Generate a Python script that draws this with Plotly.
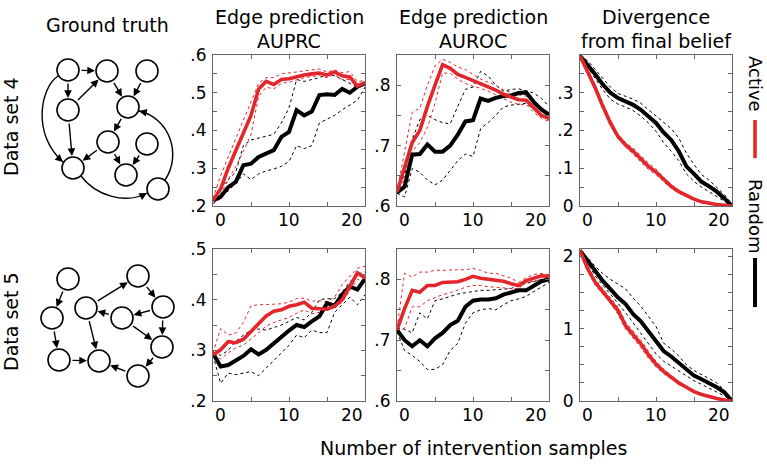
import plotly.graph_objects as go

W, H = 767, 464
FONT = "DejaVu Sans"
RED = "#e3262b"
BLACK = "#000000"

steps = list(range(21))

# ---------------- Data set 4 ----------------
ds4_auprc_active = [0.215, 0.245, 0.30, 0.345, 0.39, 0.44, 0.51, 0.53, 0.522, 0.535, 0.537, 0.543, 0.547, 0.55, 0.552, 0.547, 0.555, 0.545, 0.542, 0.518, 0.527]
ds4_auprc_active_hi = [0.22, 0.28, 0.33, 0.38, 0.43, 0.48, 0.525, 0.54, 0.54, 0.55, 0.552, 0.555, 0.558, 0.56, 0.563, 0.555, 0.56, 0.553, 0.556, 0.53, 0.532]
ds4_auprc_active_lo = [0.205, 0.23, 0.27, 0.305, 0.345, 0.39, 0.49, 0.515, 0.51, 0.525, 0.528, 0.535, 0.54, 0.543, 0.545, 0.54, 0.548, 0.535, 0.535, 0.512, 0.522]
ds4_auprc_random = [0.215, 0.224, 0.25, 0.264, 0.308, 0.312, 0.33, 0.339, 0.348, 0.383, 0.396, 0.454, 0.44, 0.45, 0.494, 0.496, 0.494, 0.51, 0.50, 0.516, 0.525]
ds4_auprc_random_hi = [0.22, 0.245, 0.27, 0.29, 0.36, 0.375, 0.38, 0.383, 0.39, 0.42, 0.46, 0.535, 0.53, 0.535, 0.54, 0.548, 0.545, 0.535, 0.525, 0.515, 0.528]
ds4_auprc_random_lo = [0.206, 0.22, 0.24, 0.26, 0.285, 0.27, 0.285, 0.293, 0.298, 0.305, 0.318, 0.36, 0.352, 0.36, 0.42, 0.43, 0.44, 0.455, 0.468, 0.48, 0.515]

ds4_auroc_active = [0.623, 0.665, 0.705, 0.725, 0.765, 0.80, 0.834, 0.828, 0.818, 0.813, 0.808, 0.802, 0.797, 0.792, 0.785, 0.78, 0.776, 0.775, 0.762, 0.75, 0.745]
ds4_auroc_active_hi = [0.625, 0.69, 0.755, 0.762, 0.80, 0.832, 0.843, 0.838, 0.83, 0.826, 0.818, 0.81, 0.805, 0.80, 0.792, 0.788, 0.784, 0.782, 0.77, 0.758, 0.752]
ds4_auroc_active_lo = [0.62, 0.645, 0.69, 0.705, 0.73, 0.77, 0.82, 0.82, 0.81, 0.803, 0.798, 0.795, 0.79, 0.784, 0.778, 0.772, 0.768, 0.768, 0.755, 0.745, 0.74]
ds4_auroc_random = [0.622, 0.632, 0.685, 0.686, 0.702, 0.69, 0.69, 0.70, 0.718, 0.74, 0.742, 0.778, 0.774, 0.779, 0.782, 0.783, 0.787, 0.788, 0.772, 0.76, 0.751]
ds4_auroc_random_hi = [0.628, 0.65, 0.71, 0.743, 0.75, 0.743, 0.738, 0.736, 0.765, 0.793, 0.797, 0.823, 0.815, 0.80, 0.79, 0.793, 0.794, 0.79, 0.787, 0.778, 0.765]
ds4_auroc_random_lo = [0.621, 0.615, 0.662, 0.656, 0.643, 0.635, 0.643, 0.66, 0.675, 0.686, 0.682, 0.728, 0.738, 0.75, 0.764, 0.767, 0.768, 0.77, 0.76, 0.75, 0.742]

ds4_div_active = [0.398, 0.357, 0.313, 0.264, 0.22, 0.184, 0.162, 0.145, 0.124, 0.105, 0.09, 0.07, 0.052, 0.038, 0.027, 0.018, 0.011, 0.007, 0.004, 0.002, 0.0]
ds4_div_active_hi = [0.398, 0.362, 0.32, 0.272, 0.228, 0.19, 0.168, 0.153, 0.133, 0.114, 0.098, 0.076, 0.057, 0.042, 0.03, 0.02, 0.013, 0.008, 0.005, 0.002, 0.0]
ds4_div_active_lo = [0.398, 0.352, 0.306, 0.256, 0.212, 0.178, 0.156, 0.138, 0.116, 0.097, 0.083, 0.064, 0.047, 0.034, 0.024, 0.016, 0.009, 0.006, 0.003, 0.001, 0.0]
ds4_div_random = [0.398, 0.375, 0.349, 0.322, 0.30, 0.286, 0.277, 0.268, 0.255, 0.238, 0.22, 0.195, 0.175, 0.145, 0.105, 0.085, 0.064, 0.052, 0.038, 0.02, 0.0]
ds4_div_random_hi = [0.398, 0.385, 0.362, 0.338, 0.315, 0.298, 0.29, 0.283, 0.272, 0.255, 0.24, 0.223, 0.205, 0.18, 0.14, 0.11, 0.083, 0.068, 0.05, 0.03, 0.005]
ds4_div_random_lo = [0.398, 0.368, 0.338, 0.308, 0.283, 0.27, 0.262, 0.253, 0.238, 0.22, 0.198, 0.168, 0.145, 0.12, 0.085, 0.065, 0.05, 0.038, 0.025, 0.012, 0.0]

# ---------------- Data set 5 ----------------
ds5_auprc_active = [0.291, 0.301, 0.317, 0.315, 0.322, 0.337, 0.354, 0.368, 0.377, 0.38, 0.387, 0.39, 0.395, 0.383, 0.382, 0.381, 0.387, 0.40, 0.426, 0.453, 0.443]
ds5_auprc_active_hi = [0.295, 0.343, 0.33, 0.334, 0.355, 0.388, 0.39, 0.39, 0.391, 0.392, 0.395, 0.402, 0.403, 0.397, 0.398, 0.396, 0.405, 0.43, 0.445, 0.462, 0.466]
ds5_auprc_active_lo = [0.288, 0.283, 0.295, 0.305, 0.31, 0.322, 0.335, 0.348, 0.355, 0.36, 0.365, 0.373, 0.38, 0.372, 0.375, 0.38, 0.385, 0.395, 0.418, 0.44, 0.435]
ds5_auprc_random = [0.294, 0.268, 0.271, 0.281, 0.289, 0.302, 0.292, 0.301, 0.314, 0.327, 0.339, 0.35, 0.346, 0.357, 0.367, 0.393, 0.388, 0.41, 0.426, 0.42, 0.441]
ds5_auprc_random_hi = [0.295, 0.29, 0.30, 0.318, 0.33, 0.34, 0.342, 0.34, 0.345, 0.35, 0.357, 0.365, 0.36, 0.375, 0.40, 0.402, 0.402, 0.415, 0.435, 0.45, 0.455]
ds5_auprc_random_lo = [0.29, 0.235, 0.255, 0.252, 0.255, 0.258, 0.25, 0.265, 0.28, 0.295, 0.31, 0.33, 0.325, 0.34, 0.335, 0.335, 0.375, 0.39, 0.405, 0.39, 0.41]

ds5_auroc_active = [0.717, 0.752, 0.782, 0.779, 0.79, 0.79, 0.795, 0.795, 0.796, 0.80, 0.805, 0.802, 0.80, 0.799, 0.797, 0.793, 0.79, 0.798, 0.802, 0.806, 0.805]
ds5_auroc_active_hi = [0.72, 0.81, 0.804, 0.812, 0.812, 0.815, 0.815, 0.815, 0.815, 0.816, 0.818, 0.815, 0.81, 0.81, 0.806, 0.802, 0.795, 0.803, 0.808, 0.81, 0.808]
ds5_auroc_active_lo = [0.715, 0.72, 0.755, 0.755, 0.765, 0.77, 0.775, 0.778, 0.783, 0.787, 0.79, 0.79, 0.788, 0.787, 0.785, 0.785, 0.785, 0.795, 0.797, 0.80, 0.80]
ds5_auroc_random = [0.717, 0.70, 0.69, 0.70, 0.69, 0.703, 0.712, 0.725, 0.732, 0.755, 0.765, 0.767, 0.767, 0.769, 0.775, 0.779, 0.782, 0.782, 0.79, 0.797, 0.80]
ds5_auroc_random_hi = [0.72, 0.718, 0.712, 0.745, 0.735, 0.765, 0.768, 0.772, 0.776, 0.778, 0.78, 0.782, 0.782, 0.783, 0.785, 0.785, 0.79, 0.793, 0.796, 0.80, 0.804]
ds5_auroc_random_lo = [0.714, 0.683, 0.675, 0.665, 0.652, 0.652, 0.66, 0.683, 0.695, 0.728, 0.745, 0.75, 0.752, 0.75, 0.758, 0.765, 0.768, 0.772, 0.78, 0.787, 0.795]

ds5_div_active = [2.08, 1.83, 1.64, 1.51, 1.39, 1.25, 1.04, 0.92, 0.79, 0.64, 0.51, 0.41, 0.33, 0.25, 0.19, 0.13, 0.09, 0.06, 0.035, 0.015, 0.0]
ds5_div_active_hi = [2.08, 1.86, 1.68, 1.55, 1.43, 1.30, 1.09, 0.97, 0.84, 0.69, 0.55, 0.44, 0.35, 0.27, 0.20, 0.14, 0.10, 0.065, 0.04, 0.018, 0.0]
ds5_div_active_lo = [2.08, 1.80, 1.60, 1.47, 1.35, 1.20, 0.99, 0.87, 0.74, 0.59, 0.47, 0.38, 0.31, 0.23, 0.18, 0.12, 0.08, 0.055, 0.03, 0.012, 0.0]
ds5_div_random = [2.08, 1.94, 1.79, 1.66, 1.545, 1.43, 1.34, 1.20, 1.10, 0.965, 0.83, 0.69, 0.615, 0.53, 0.43, 0.35, 0.30, 0.25, 0.19, 0.12, 0.0]
ds5_div_random_hi = [2.08, 1.98, 1.86, 1.76, 1.68, 1.62, 1.55, 1.42, 1.31, 1.17, 1.03, 0.80, 0.72, 0.62, 0.50, 0.42, 0.37, 0.31, 0.25, 0.15, 0.02]
ds5_div_random_lo = [2.08, 1.90, 1.73, 1.60, 1.48, 1.35, 1.22, 1.08, 0.93, 0.80, 0.65, 0.55, 0.48, 0.42, 0.35, 0.28, 0.23, 0.18, 0.13, 0.07, 0.0]

# ---------------- Tick definitions ----------------
x_tickvals = [0, 5, 10, 15, 20]
x_ticklabels = {0: "0", 10: "10", 20: "20"}

auprc4_ticks = [0.2, 0.25, 0.3, 0.35, 0.4, 0.45, 0.5, 0.55, 0.6]
auprc4_labels = [".2", "", ".3", "", ".4", "", ".5", "", ".6"]
auroc_ticks = [0.6, 0.65, 0.7, 0.75, 0.8, 0.85]
auroc_labels = [".6", "", ".7", "", ".8", ""]
div4_ticks = [0, 0.05, 0.1, 0.15, 0.2, 0.25, 0.3, 0.35]
div4_labels = ["0", "", ".1", "", ".2", "", ".3", ""]
auprc5_ticks = [0.2, 0.25, 0.3, 0.35, 0.4, 0.45, 0.5]
auprc5_labels = [".2", "", ".3", "", ".4", "", ".5"]
div5_ticks = [0, 0.25, 0.5, 0.75, 1, 1.25, 1.5, 1.75, 2]
div5_labels = ["0", "", "", "", "1", "", "", "", "2"]

col_titles = ["Edge prediction<br>AUPRC", "Edge prediction<br>AUROC", "Divergence<br>from final belief"]
row_titles = ["Data set 4", "Data set 5"]

# ---------------- Ground-truth networks ----------------
ds4_node_x = [68, 107, 147, 68, 128, 108, 147, 73, 126, 158]
ds4_node_y = [70, 71, 71, 110, 107, 142, 144, 168, 175, 189]
ds4_edges = [(0, 1), (0, 3), (3, 1), (1, 4), (2, 4), (3, 7), (4, 5), (5, 7), (5, 8), (6, 8)]
# curved edges: start, control1, control2, end
ds4_curves = [
    [(58, 76), (40, 88), (32, 135), (63, 162)],
    [(81, 176), (95, 195), (125, 205), (147, 193)],
    [(165, 180), (182, 155), (170, 118), (139, 111)],
]
ds5_node_x = [68, 52, 59, 99, 86, 138, 163, 122, 162, 138]
ds5_node_y = [279, 318, 360, 361, 308, 276, 307, 318, 347, 376]
ds5_edges = [(0, 1), (1, 2), (2, 3), (4, 3), (4, 5), (5, 6), (6, 7), (7, 4), (6, 8), (7, 8), (8, 9), (9, 3)]
NODE_R = 11

# ---------------- Layout geometry (pixels) ----------------
col_px = [(213, 365), (397, 549), (580, 732)]
row_px = [(55, 206), (249, 401)]


def px_x(p):
    return p / W


def px_y(p):
    return 1 - p / H


def label(x, y, text, size=19, angle=0, xanchor="center", yanchor="middle"):
    return dict(x=px_x(x), y=px_y(y), xref="paper", yref="paper", text=text,
                textangle=angle, showarrow=False, xanchor=xanchor, yanchor=yanchor,
                font=dict(family=FONT, size=size, color="black"))


panels = [
    (0, 0, ds4_auprc_active, ds4_auprc_active_lo, ds4_auprc_active_hi, ds4_auprc_random, ds4_auprc_random_lo, ds4_auprc_random_hi, [0.2, 0.6], auprc4_ticks, auprc4_labels),
    (0, 1, ds4_auroc_active, ds4_auroc_active_lo, ds4_auroc_active_hi, ds4_auroc_random, ds4_auroc_random_lo, ds4_auroc_random_hi, [0.6, 0.85], auroc_ticks, auroc_labels),
    (0, 2, ds4_div_active, ds4_div_active_lo, ds4_div_active_hi, ds4_div_random, ds4_div_random_lo, ds4_div_random_hi, [0, 0.4], div4_ticks, div4_labels),
    (1, 0, ds5_auprc_active, ds5_auprc_active_lo, ds5_auprc_active_hi, ds5_auprc_random, ds5_auprc_random_lo, ds5_auprc_random_hi, [0.2, 0.5], auprc5_ticks, auprc5_labels),
    (1, 1, ds5_auroc_active, ds5_auroc_active_lo, ds5_auroc_active_hi, ds5_auroc_random, ds5_auroc_random_lo, ds5_auroc_random_hi, [0.6, 0.85], auroc_ticks, auroc_labels),
    (1, 2, ds5_div_active, ds5_div_active_lo, ds5_div_active_hi, ds5_div_random, ds5_div_random_lo, ds5_div_random_hi, [0, 2.1], div5_ticks, div5_labels),
]

fig = go.Figure()
layout = dict(
    width=W, height=H, margin=dict(l=0, r=0, t=0, b=0, autoexpand=False),
    paper_bgcolor="white", plot_bgcolor="white", showlegend=False,
    font=dict(family=FONT, size=17, color="black"),
)
annotations = []
shapes = []

AX_COLOR = "#666666"
for k, (r, c, act, act_lo, act_hi, rnd, rnd_lo, rnd_hi, yr, yt, yl) in enumerate(panels):
    idx = k + 1
    xa = "x" if idx == 1 else f"x{idx}"
    ya = "y" if idx == 1 else f"y{idx}"
    xkey = "xaxis" if idx == 1 else f"xaxis{idx}"
    ykey = "yaxis" if idx == 1 else f"yaxis{idx}"
    for series, color, width, dash in [
        (rnd_lo, BLACK, 1, "dot"), (rnd_hi, BLACK, 1, "dot"),
        (act_lo, RED, 1, "dot"), (act_hi, RED, 1, "dot"),
        (rnd, BLACK, 4, "solid"), (act, RED, 3.6, "solid"),
    ]:
        fig.add_trace(go.Scatter(x=steps, y=series, mode="lines", xaxis=xa, yaxis=ya,
                                 line=dict(color=color, width=width, dash=dash), hoverinfo="skip"))
    x0, x1 = col_px[c]
    y0, y1 = row_px[r]
    layout[xkey] = dict(domain=[px_x(x0), px_x(x1)], range=[0, 20], anchor=ya,
                        tickvals=x_tickvals, showticklabels=False, ticks="inside", ticklen=4,
                        tickcolor=AX_COLOR, showline=True, linecolor=AX_COLOR, linewidth=1,
                        mirror="allticks", showgrid=False, zeroline=False, fixedrange=True)
    layout[ykey] = dict(domain=[px_y(y1), px_y(y0)], range=yr, anchor=xa,
                        tickvals=yt, ticktext=yl, ticks="inside", ticklen=4,
                        tickcolor=AX_COLOR, showline=True, linecolor=AX_COLOR, linewidth=1,
                        mirror="allticks", showgrid=False, zeroline=False, fixedrange=True,
                        tickfont=dict(family=FONT, size=17), ticklabelstandoff=2)
    for v, txt in x_ticklabels.items():
        anchor = "left" if v == 0 else ("right" if v == 20 else "center")
        annotations.append(dict(x=v, y=px_y(y1 + 14), xref=xa, yref="paper", text=txt,
                                showarrow=False, xanchor=anchor, yanchor="middle",
                                font=dict(family=FONT, size=17, color="black")))
    if r == 0:
        annotations.append(label((x0 + x1) / 2, 17, col_titles[c].split("<br>")[0]))
        annotations.append(label((x0 + x1) / 2, 41, col_titles[c].split("<br>")[1]))

# Row labels, column header, axis title
annotations.append(label(107, 25, "Ground truth"))
for txt, yc in zip(row_titles, [127, 322]):
    annotations.append(label(11, yc, txt, angle=-90))
annotations.append(label(473, 448, "Number of intervention samples"))

# Legend (rotated)
annotations.append(label(755, 84, "Active", size=18, angle=90))
annotations.append(label(755, 216, "Random", size=18, angle=90))
shapes.append(dict(type="line", xref="paper", yref="paper", x0=px_x(755), x1=px_x(755),
                   y0=px_y(120), y1=px_y(158), line=dict(color=RED, width=3.6)))
shapes.append(dict(type="line", xref="paper", yref="paper", x0=px_x(755), x1=px_x(755),
                   y0=px_y(258), y1=px_y(307), line=dict(color=BLACK, width=4)))

# Network drawing axis (pixel-like coordinates)
layout["xaxis7"] = dict(domain=[0, 185 / W], range=[0, 185], visible=False, fixedrange=True, anchor="y7")
layout["yaxis7"] = dict(domain=[0, 1], range=[H, 0], visible=False, fixedrange=True, anchor="x7")

for nx, ny, edges in [(ds4_node_x, ds4_node_y, ds4_edges), (ds5_node_x, ds5_node_y, ds5_edges)]:
    fig.add_trace(go.Scatter(x=nx, y=ny, mode="markers", xaxis="x7", yaxis="y7", hoverinfo="skip",
                             cliponaxis=False,
                             marker=dict(size=2 * NODE_R, color="white", line=dict(color="black", width=1.6))))
    for a, b in edges:
        annotations.append(dict(x=nx[b], y=ny[b], ax=nx[a], ay=ny[a], xref="x7", yref="y7",
                                axref="x7", ayref="y7", text="", showarrow=True, arrowhead=2,
                                arrowsize=1.1, arrowwidth=1.4, arrowcolor="black",
                                standoff=NODE_R + 1, startstandoff=NODE_R + 1))

for (s, c1, c2, e) in ds4_curves:
    shapes.append(dict(type="path", xref="x7", yref="y7", layer="below",
                       path=f"M {s[0]},{s[1]} C {c1[0]},{c1[1]} {c2[0]},{c2[1]} {e[0]},{e[1]}",
                       line=dict(color="black", width=1.4)))
    dx, dy = e[0] - c2[0], e[1] - c2[1]
    n = (dx * dx + dy * dy) ** 0.5
    annotations.append(dict(x=e[0], y=e[1], ax=e[0] - 4 * dx / n, ay=e[1] - 4 * dy / n,
                            xref="x7", yref="y7", axref="x7", ayref="y7", text="", showarrow=True,
                            arrowhead=2, arrowsize=1.1, arrowwidth=1.4, arrowcolor="black",
                            standoff=0, startstandoff=0))

layout["annotations"] = annotations
layout["shapes"] = shapes
fig.update_layout(**layout)
fig.write_html("out.html", config={"displayModeBar": False},
               post_script="document.body.style.margin='0px';")
